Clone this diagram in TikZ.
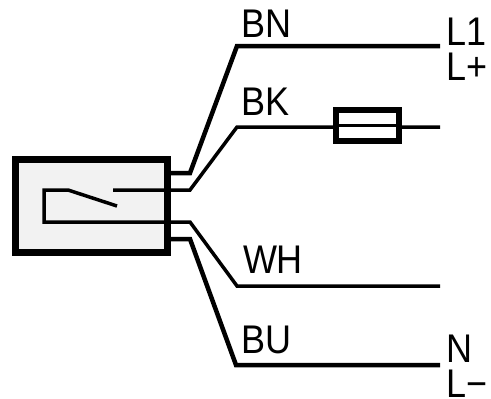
\documentclass[tikz,border=0pt]{standalone}
\usepackage{fontspec}
\setmainfont{Liberation Sans}
\newfontfamily\labfont[FakeStretch=0.9]{Liberation Sans}
\definecolor{BoxFill}{RGB}{242,242,242}
\tikzstyle{Box}=[rectangle,draw=black,fill=BoxFill,line width=7pt,
minimum width=152pt,minimum height=93pt,inner sep=0pt,outer sep=0pt]
\tikzstyle{Fuse}=[rectangle,draw=black,fill=white,line width=6.5pt,
minimum width=63pt,minimum height=31pt,inner sep=0pt,outer sep=0pt]
\tikzstyle{Wire}=[draw=black,line width=3.5pt,line join=miter]
\tikzstyle{WireST}=[draw=black,line width=4.5pt,line join=miter]
\tikzstyle{Contact}=[draw=black,line width=3pt,line join=miter]
\tikzstyle{Lab}=[anchor=base west,inner sep=0pt,outer sep=0pt,
font=\labfont\fontsize{40}{40}\selectfont]
\begin{document}
\begin{tikzpicture}[x=1pt,y=-1pt]
        \useasboundingbox(0,0)rectangle(491,399);
        \node[Box](box)at(91,206.3){};
        % brown
        \coordinate(bn0)at(166,173);
        \coordinate(bn1)at(190,173);
        \coordinate(bn2)at(237,46);
        \coordinate(bn3)at(440,46);
        \draw[WireST](bn0)--(bn1)--(bn2)--(bn3);
        % black, through the fuse
        \coordinate(bk0)at(113,190);
        \coordinate(bk1)at(190,190);
        \coordinate(bk2)at(237,127);
        \coordinate(bk3)at(440,127);
        \draw[Wire](bk0)--(bk1)--(bk2)--(bk3);
        \node[Fuse](fuse)at(367.5,125.5){};
        \draw[Contact](fuse.west)--(fuse.east);
        % white, with the switch arm
        \coordinate(arm)at(117,206);
        \coordinate(pivot)at(68,190);
        \coordinate(c1)at(44,190);
        \coordinate(c2)at(44,222);
        \coordinate(wh1)at(190,222);
        \coordinate(wh2)at(237,286);
        \coordinate(wh3)at(440,286);
        \draw[Wire](arm)--(pivot)--(c1)--(c2)--(wh1)--(wh2)--(wh3);
        % blue
        \coordinate(bu0)at(166,239);
        \coordinate(bu1)at(190,239);
        \coordinate(bu2)at(236,365);
        \coordinate(bu3)at(440,365);
        \draw[WireST](bu0)--(bu1)--(bu2)--(bu3);
        \node[Lab](BN)at(241,37){BN};
        \node[Lab](BK)at(241,115){BK};
        \node[Lab](WH)at(243,273){WH};
        \node[Lab](BU)at(241,353){BU};
        \node[Lab](L1)at(446.5,45){L1};
        \node[Lab](Lp)at(446.5,80){L+};
        \node[Lab](N)at(446.5,362){N};
        \node[Lab](Lm)at(446.5,397){L−};
    \end{tikzpicture}
\end{document}
